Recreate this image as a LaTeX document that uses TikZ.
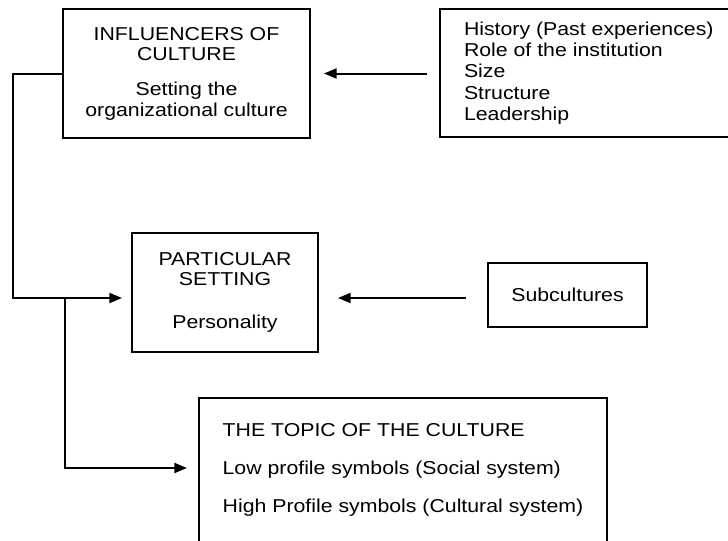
\documentclass[tikz,border=0pt]{standalone}
\usepackage{fontspec}
\setmainfont{Liberation Sans}[FakeStretch=1.14]
\usetikzlibrary{arrows.meta,positioning}
\tikzset{every picture/.style={line width=1.5pt}}

\begin{document}
\begin{tikzpicture}[x=0.75pt,y=0.75pt,yscale=-1,xscale=1,
  box/.style={draw, inner sep=0pt, font=\fontsize{14}{15.4}\selectfont},
  arr/.style={-{Triangle[length=9.5pt,width=7.5pt]}}]
\useasboundingbox (0,0) rectangle (728,540);

% Boxes
\node [box, minimum width=185.25pt, minimum height=96.75pt, align=center] (infl) at (186.5,73.5) {INFLUENCERS OF\\CULTURE\\[10.9pt]Setting the\\organizational culture};
\node [box, anchor=west, minimum height=96pt, inner xsep=18pt, align=left, font=\fontsize{14}{16}\selectfont] (hist) at (439,73) {History (Past experiences)\\Role of the institution\\Size\\Structure\\Leadership};
\node [box, minimum width=139.5pt, minimum height=89.25pt, align=center] (part) at (225,292.5) {PARTICULAR\\SETTING\\[17pt]Personality};
\node [box, minimum width=119.25pt, minimum height=48pt] (sub) at (567.5,295) {Subcultures};
\node [box, anchor=north west, minimum width=306pt, inner xsep=16.5pt, inner ysep=18.75pt, align=left, text depth=80pt] (topic) at (198,397) {THE TOPIC OF THE CULTURE\\[13.1pt]Low profile symbols (Social system)\\[13.1pt]High Profile symbols (Cultural system)};

% Connectors
\coordinate (arrowrow) at (0,298);
\coordinate (rail) at (13,298);
\coordinate (branch) at (65,298);
\coordinate (lowrow) at (0,468);

\draw [arr, shorten <=9pt, shorten >=9.75pt] (hist.west |- infl.east) -- (infl.east);
\draw [arr, shorten <=15.75pt, shorten >=14.25pt] (sub.west |- arrowrow) -- (part.east |- arrowrow);
\draw [arr, shorten >=6.75pt] (infl.west) -| (rail) -- (part.west |- arrowrow);
\draw [arr, shorten >=8.25pt] (branch) |- (topic.west |- lowrow);

\end{tikzpicture}
\end{document}
